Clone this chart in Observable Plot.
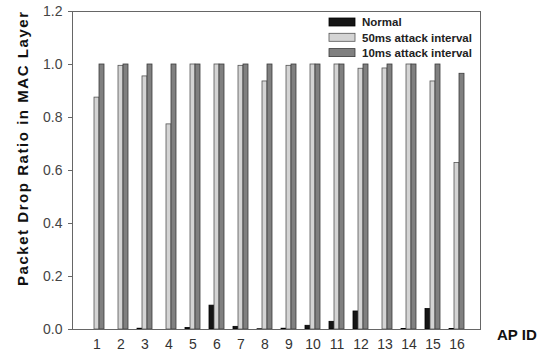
<!DOCTYPE html>
<html>
<head>
<meta charset="utf-8">
<script src="https://cdn.jsdelivr.net/npm/d3@7"></script>
<script src="https://cdn.jsdelivr.net/npm/@observablehq/plot@0.6"></script>
<style>
  body { margin: 0; background: #fff; }
  #chart { width: 548px; height: 353px; }
  svg { font-family: Arial, "Liberation Sans", sans-serif; }
</style>
</head>
<body>
<div id="chart"></div>
<script>
// ---- data ----
const apIds = [1, 2, 3, 4, 5, 6, 7, 8, 9, 10, 11, 12, 13, 14, 15, 16];
const seriesNames = ["Normal", "50ms attack interval", "10ms attack interval"];
const normal = [0, 0, 0.003, 0, 0.006, 0.09, 0.010, 0.001, 0.003, 0.014, 0.029, 0.068, 0, 0.002, 0.077, 0.002];
const attack50 = [0.875, 0.995, 0.955, 0.774, 1.0, 1.0, 0.995, 0.936, 0.995, 1.0, 1.0, 0.984, 0.985, 1.0, 0.936, 0.628];
const attack10 = [1.0, 1.0, 1.0, 1.0, 1.0, 1.0, 1.0, 1.0, 1.0, 1.0, 1.0, 1.0, 1.0, 1.0, 1.0, 0.965];
const yTicks = [0, 0.2, 0.4, 0.6, 0.8, 1.0, 1.2];

const fills = ["#151515", "#d4d4d4", "#808080"];
const strokes = ["#000000", "#555555", "#3a3a3a"];

const W = 548, H = 353;
const mL = 72, mR = 68, mT = 11, mB = 24;
const pInner = 0.383, pOuter = 0.577;

// bandwidth for splitting each group into three bars
const band = d3.scaleBand().domain(apIds).range([mL, W - mR]).paddingInner(pInner).paddingOuter(pOuter);
const bw = band.bandwidth();
const third = bw / 3;

const seriesValues = [normal, attack50, attack10];
const tables = seriesValues.map(vals => apIds.map((id, i) => ({id, value: vals[i]})));

const barMarks = tables.map((t, k) => Plot.barY(t, {
  x: "id", y: "value",
  fill: fills[k], stroke: strokes[k], strokeWidth: 0.8,
  insetLeft: k * third, insetRight: (2 - k) * third
}));

const plot = Plot.plot({
  width: W, height: H,
  marginLeft: mL, marginRight: mR, marginTop: mT, marginBottom: mB,
  x: {type: "band", domain: apIds, paddingInner: pInner, paddingOuter: pOuter, label: null},
  y: {domain: [0, 1.2], label: null},
  style: {fontFamily: "Arial, 'Liberation Sans', sans-serif", background: "#fff"},
  marks: [
    ...barMarks,
    Plot.axisY({ticks: yTicks, tickFormat: d3.format(".1f"), tickSize: 4, tickPadding: 6,
      fontSize: 14, color: "#444", stroke: "#666", label: null}),
    Plot.axisX({tickSize: 0, tickPadding: 10, fontSize: 14, color: "#333", label: null}),
    Plot.frame({stroke: "#666", strokeWidth: 1})
  ]
});

const svg = d3.select(plot);
// y label
svg.append("text")
  .attr("transform", `translate(28,149) rotate(-90)`)
  .attr("text-anchor", "middle")
  .attr("font-size", 15).attr("font-weight", "bold").attr("fill", "#111")
  .attr("textLength", 274).attr("lengthAdjust", "spacing")
  .text("Packet Drop Ratio in MAC Layer");
// x label
svg.append("text")
  .attr("x", 497).attr("y", 340)
  .attr("text-anchor", "start")
  .attr("font-size", 15).attr("font-weight", "bold").attr("fill", "#111")
  .text("AP ID");
// legend
const lg = svg.append("g").attr("text-anchor", "start");
seriesNames.forEach((name, k) => {
  const cy = 22 + k * 15.3;
  lg.append("rect").attr("x", 329).attr("y", cy - 4).attr("width", 26).attr("height", 8)
    .attr("fill", fills[k]).attr("stroke", strokes[k]).attr("stroke-width", 0.8);
  lg.append("text").attr("x", 362).attr("y", cy + 4.2)
    .attr("text-anchor", "start")
    .attr("font-size", 11.5).attr("font-weight", "bold").attr("fill", "#222")
    .text(name);
});

document.getElementById("chart").appendChild(plot);
</script>
</body>
</html>
